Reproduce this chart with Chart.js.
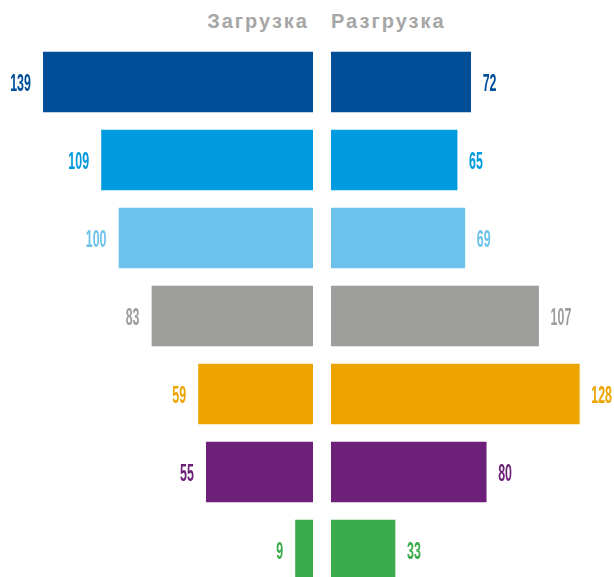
<!DOCTYPE html>
<html>
<head>
<meta charset="utf-8">
<script src="https://cdn.jsdelivr.net/npm/chart.js@4"></script>
<style>
html,body{margin:0;padding:0;background:#fff;overflow:hidden;}
#wrap{position:relative;width:614px;height:577px;}
.hdr{position:absolute;top:11px;font:bold 20px "Liberation Sans",Arial,sans-serif;line-height:20px;color:#A6A6A6;letter-spacing:2px;white-space:nowrap;}
#hl{right:305px;}
#hr{left:331px;}
#left{position:absolute;left:0;top:0;}
#right{position:absolute;left:331px;top:0;}
</style>
</head>
<body>
<div id="wrap">
  <div class="hdr" id="hl">Загрузка</div>
  <div class="hdr" id="hr">Разгрузка</div>
  <canvas id="left" width="313" height="577"></canvas>
  <canvas id="right" width="283" height="577"></canvas>
</div>
<script>
// ---- data ----
const headers = ['Загрузка', 'Разгрузка'];
const categories = ['1', '2', '3', '4', '5', '6', '7'];
const loading = [139, 109, 100, 83, 59, 55, 9];
const unloading = [72, 65, 69, 107, 128, 80, 33];
const colors = ['#004D98', '#009ADE', '#6CC2EA', '#9D9D9C', '#EDA300', '#6C2078', '#3AAA4A'];

// ---- layout constants ----
const PX_PER_UNIT = 1.94;
const ROW_PX = 78;
const TOP_PAD = 43;
const CANVAS_H = 577;

function labelPlugin(values, side) {
  return {
    id: 'valueLabels',
    afterDatasetsDraw(chart) {
      const ctx = chart.ctx;
      const meta = chart.getDatasetMeta(0);
      ctx.save();
      ctx.font = 'bold 24px "Liberation Sans Narrow", "Liberation Sans", "DejaVu Sans Condensed", sans-serif';
      const sx = 6.9 / ctx.measureText('0').width;
      meta.data.forEach((bar, i) => {
        ctx.save();
        ctx.fillStyle = colors[i];
        ctx.textBaseline = 'alphabetic';
        ctx.textAlign = side === 'left' ? 'right' : 'left';
        ctx.translate(side === 'left' ? bar.x - 12.5 : bar.x + 12, bar.y + 8.5);
        ctx.scale(sx, 1);
        ctx.fillText(String(values[i]), 0, 0);
        ctx.restore();
      });
      ctx.restore();
    }
  };
}

function makeChart(id, values, side) {
  const canvas = document.getElementById(id);
  const maxVal = canvas.width / PX_PER_UNIT;
  return new Chart(canvas, {
    type: 'bar',
    data: {
      labels: categories,
      datasets: [{
        data: values.map((v, i) => ({ x: v, y: i })),
        backgroundColor: colors,
        borderWidth: 0,
        barThickness: 60
      }]
    },
    options: {
      indexAxis: 'y',
      responsive: false,
      animation: false,
      devicePixelRatio: 1,
      layout: { padding: { top: TOP_PAD, bottom: 0, left: 0, right: 0 } },
      plugins: { legend: { display: false }, tooltip: { enabled: false }, title: { display: false } },
      scales: {
        x: { type: 'linear', min: 0, max: maxVal, reverse: side === 'left', display: false, offset: false, grace: 0 },
        y: { type: 'linear', min: -0.5, max: -0.5 + (CANVAS_H - TOP_PAD) / ROW_PX, reverse: true, display: false, offset: false, grace: 0 }
      }
    },
    plugins: [labelPlugin(values, side)]
  });
}

makeChart('left', loading, 'left');
makeChart('right', unloading, 'right');
</script>
</body>
</html>
